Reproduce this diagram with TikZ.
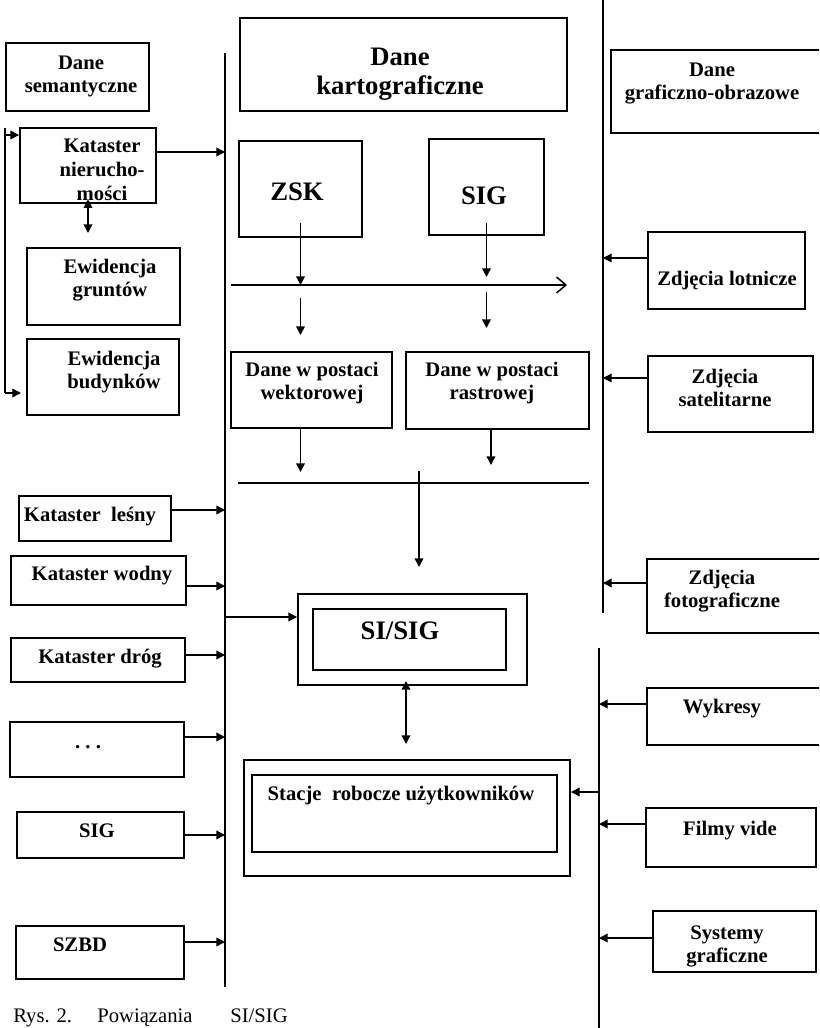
\documentclass[tikz,border=0pt]{standalone}
\usepackage{fontspec}
\setmainfont{Liberation Serif}
\usetikzlibrary{arrows.meta,fit}
\begin{document}
\begin{tikzpicture}[x=0.75pt,y=-0.75pt,
 box/.style={draw,line width=1.4pt,inner sep=0pt},
 lbl/.style={font=\fontsize{15.5}{17}\selectfont\bfseries,align=center,inner sep=0pt,yshift=-2.4pt},
 big/.style={font=\fontsize{20}{22}\selectfont\bfseries,align=center,inner sep=0pt,yshift=-2.4pt},
 captxt/.style={font=\fontsize{15.5}{17}\selectfont,anchor=north west,inner sep=0pt},
 ln/.style={line width=1.4pt},
 arr/.style={line width=1.1pt,-{Triangle[length=6.5pt,width=6.5pt]}},
 arrb/.style={line width=1.1pt,{Triangle[length=6.5pt,width=6.5pt]}-{Triangle[length=6.5pt,width=6.5pt]}},
 barb/.style={line width=1.1pt,-{Straight Barb[length=7pt,width=12pt]}},
]
\clip (0,0) rectangle (819,1028);
\fill[white] (0,0) rectangle (819,1028);

% ---------- left column ----------
\node[box,fit={(6,43)(149,111)}] (ds) {};
\node[lbl] (dst) at (81,73) {Dane\\semantyczne};
\node[box,fit={(20,128)(156,203)}] (ks) {};
\node[lbl,font=\fontsize{15.5}{18}\selectfont\bfseries] (kst) at (102,167) {Kataster\\nierucho-\\mości};
\node[box,fit={(27,248)(180,325)}] (eg) {};
\node[lbl] (egt) at (110,277) {Ewidencja\\gruntów};
\node[box,fit={(27,339)(179,415)}] (eb) {};
\node[lbl] (ebt) at (114,369) {Ewidencja\\budynków};
\node[box,fit={(19,496)(171,541)}] (kl) {};
\node[lbl] (klt) at (90,513) {Kataster\ \ leśny};
\node[box,fit={(11,556)(186,605)}] (kw) {};
\node[lbl] (kwt) at (102,572) {Kataster wodny};
\node[box,fit={(11,638)(185,682)}] (kd) {};
\node[lbl] (kdt) at (100,655) {Kataster dróg};
\node[box,fit={(10,722)(184,777)}] (kx) {};
\node[lbl] (kxt) at (88,744) {.\ .\ .};
\node[box,fit={(17,812)(184,858)}] (sgl) {};
\node[lbl] (sglt) at (97,828) {SIG};
\node[box,fit={(16,926)(184,979)}] (szbd) {};
\node[lbl] (szbdt) at (80,942) {SZBD};

% ---------- centre ----------
\node[box,fit={(240,18)(567,111)}] (dk) {};
\node[big] (dkt) at (400,71) {Dane\\kartograficzne};
\node[box,fit={(239,141)(362,237)}] (zsk) {};
\node[big] (zskt) at (297,189) {ZSK};
\node[box,fit={(429,139)(544,235)}] (sigc) {};
\node[big] (sigct) at (484,193) {SIG};
\node[box,fit={(231,352)(392,428)}] (wek) {};
\node[lbl] (wekt) at (312,380) {Dane w postaci\\wektorowej};
\node[box,fit={(406,352)(589,429)}] (ras) {};
\node[lbl] (rast) at (492,380) {Dane w postaci\\rastrowej};
\node[box,fit={(298,594)(527,685)}] (si) {};
\node[box,fit={(313,609)(506,670)}] (sii) {};
\node[big] (sit) at (400,628) {SI/SIG};
\node[box,fit={(244,760)(570,876)}] (st) {};
\node[box,fit={(252,775)(557,852)}] (sti) {};
\node[lbl] (stt) at (401,792) {Stacje\ \ robocze użytkowników};

% ---------- right column ----------
\node[box,fit={(611,50)(823,133)}] (dg) {};
\node[lbl] (dgt) at (712,80) {Dane\\graficzno-obrazowe};
\node[box,fit={(648,232)(805,309)}] (zl) {};
\node[lbl] (zlt) at (727,277) {Zdjęcia lotnicze};
\node[box,fit={(648,356)(813,432)}] (zs) {};
\node[lbl] (zst) at (725,385) {Zdjęcia\\satelitarne};
\node[box,fit={(647,559)(823,633)}] (zf) {};
\node[lbl] (zft) at (722,588) {Zdjęcia\\fotograficzne};
\node[box,fit={(647,688)(823,745)}] (wy) {};
\node[lbl] (wyt) at (722,705) {Wykresy};
\node[box,fit={(646,808)(816,867)}] (fv) {};
\node[lbl] (fvt) at (730,827) {Filmy vide};
\node[box,fit={(653,911)(816,972)}] (sg) {};
\node[lbl] (sgt) at (727,943) {Systemy\\graficzne};

% ---------- caption ----------
\node[captxt] (c1) at (13,1009) {Rys. 2.};
\node[captxt] (c2) at (97,1009) {Powiązania};
\node[captxt] (c3) at (230,1009) {SI/SIG};

% ---------- bus lines ----------
\coordinate (Lt) at (225,53);  \coordinate (Lb) at (225,987);
\coordinate (R1t) at (603,-2); \coordinate (R1b) at (603,613);
\coordinate (R2t) at (599,648); \coordinate (R2b) at (599,1030);
\coordinate (Bt) at (5,128);   \coordinate (Bb) at (5,393);
\coordinate (ebin) at (21,393);
\coordinate (H1a) at (231,285); \coordinate (H1b) at (567,285);
\coordinate (H2a) at (238,483); \coordinate (H2b) at (589,483);
\draw[ln] (Lt) -- (Lb);
\draw[ln] (R1t) -- (R1b);
\draw[ln] (R2t) -- (R2b);
\draw[ln] (Bt) -- (Bb);
\draw[ln] (H2a) -- (H2b);
\draw[barb] (H1a) -- (H1b);

% ---------- left connectors ----------
\draw[arr] (Bt |- 0,135) -- (ks.west |- 0,135);
\draw[arr] (Bb) -- (ebin);
\draw[arrb] ([yshift=3.5pt]ks.south) -- (ks.south |- 0,233);
\draw[arr] (ks.east |- 0,152) -- (Lt |- 0,152);
\draw[arr] (kl.east |- 0,510) -- (Lt |- 0,510);
\draw[arr] (kw.east |- 0,586) -- (Lt |- 0,586);
\draw[arr] (kd.east |- 0,655) -- (Lt |- 0,655);
\draw[arr] (kx.east |- 0,737) -- (Lt |- 0,737);
\draw[arr] (sgl.east |- 0,835) -- (Lt |- 0,835);
\draw[arr] (szbd.east |- 0,942) -- (Lt |- 0,942);
\draw[arr] (Lt |- 0,617) -- (si.west |- 0,617);

% ---------- centre connectors ----------
\draw[arr] (zsk.south |- 0,223) -- (zsk.south |- H1a);
\draw[arr] (sigc.south |- 0,223) -- (sigc.south |- 0,277);
\draw[arr] (zsk.south |- 0,298) -- (zsk.south |- 0,335);
\draw[arr] (sigc.south |- 0,292) -- (sigc.south |- 0,328);
\draw[arr] (zsk.south |- wek.south) -- (zsk.south |- 0,472);
\draw[arr] (ras.south -| 491,0) -- (491,465);
\draw[arr] (419,471) -- (419,567);
\draw[arrb] (406,681) -- (406,744);
\draw[arr] (R2t |- 0,792) -- (st.east |- 0,792);

% ---------- right connectors ----------
\draw[arr] (zl.west |- 0,258) -- (R1t |- 0,258);
\draw[arr] (zs.west |- 0,378) -- (R1t |- 0,378);
\draw[arr] (zf.west |- 0,583) -- (R1t |- 0,583);
\draw[arr] (wy.west |- 0,704) -- (R2t |- 0,704);
\draw[arr] (fv.west |- 0,824) -- (R2t |- 0,824);
\draw[arr] (sg.west |- 0,938) -- (R2t |- 0,938);
\end{tikzpicture}
\end{document}
